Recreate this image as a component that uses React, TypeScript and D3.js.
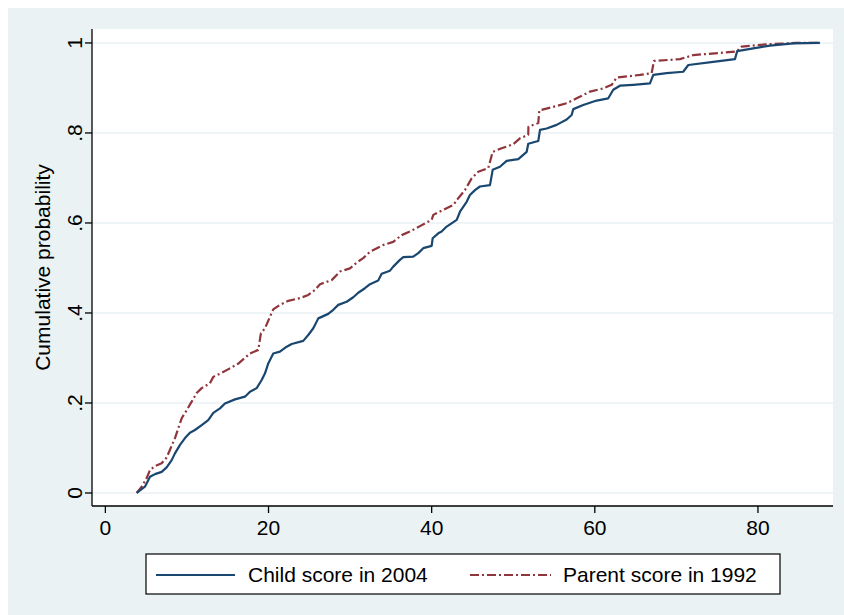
import React from "react";
import * as d3 from "d3";

// Empirical cumulative distributions (score, cumulative probability)
const childScore = [3.84, 4.85, 5.47, 6.08, 6.9, 7.51, 8.13, 8.53, 9.15, 9.76, 10.37, 10.98, 11.81, 12.61, 13.23, 14.05, 14.66, 15.89, 17.11, 17.73, 18.55, 19.16, 19.57, 19.97, 20.58, 21.4, 22.23, 22.84, 24.26, 24.87, 25.49, 26.1, 27.32, 27.94, 28.55, 29.58, 30.39, 31.0, 31.82, 32.44, 33.45, 33.87, 34.89, 35.29, 36.11, 36.52, 37.74, 38.36, 38.97, 40.0, 40.12, 40.81, 41.22, 41.84, 43.07, 43.47, 44.29, 44.69, 45.31, 45.92, 47.15, 47.48, 48.37, 49.19, 50.62, 51.65, 51.84, 53.07, 53.28, 54.1, 55.32, 56.55, 57.16, 57.36, 58.58, 60.23, 61.65, 62.26, 63.08, 64.71, 66.76, 67.17, 68.81, 70.84, 71.46, 74.52, 77.18, 77.46, 79.42, 81.47, 84.33, 87.6];
const childProb = [0, 0.014, 0.036, 0.042, 0.047, 0.057, 0.073, 0.088, 0.107, 0.122, 0.134, 0.14, 0.151, 0.162, 0.178, 0.188, 0.199, 0.208, 0.214, 0.225, 0.233, 0.251, 0.266, 0.288, 0.31, 0.314, 0.325, 0.331, 0.338, 0.351, 0.366, 0.388, 0.398, 0.407, 0.418, 0.425, 0.435, 0.445, 0.455, 0.464, 0.472, 0.487, 0.494, 0.503, 0.518, 0.524, 0.525, 0.533, 0.544, 0.549, 0.566, 0.577, 0.581, 0.592, 0.607, 0.625, 0.647, 0.662, 0.673, 0.681, 0.684, 0.718, 0.725, 0.738, 0.742, 0.758, 0.776, 0.782, 0.807, 0.81, 0.818, 0.83, 0.84, 0.853, 0.862, 0.872, 0.877, 0.896, 0.905, 0.907, 0.91, 0.929, 0.933, 0.936, 0.951, 0.958, 0.964, 0.982, 0.988, 0.994, 0.999, 1.0];

const parentScore = [3.84, 4.45, 5.06, 5.47, 6.08, 6.9, 7.51, 7.92, 8.53, 9.15, 9.35, 9.97, 10.58, 11.19, 11.81, 12.82, 13.23, 14.26, 14.87, 16.26, 17.73, 18.74, 19.07, 19.57, 20.09, 20.58, 21.4, 22.42, 23.86, 24.87, 25.69, 26.31, 27.74, 28.76, 29.98, 30.81, 31.61, 32.44, 34.07, 35.29, 36.32, 37.34, 38.57, 40.0, 40.2, 41.42, 42.65, 43.26, 44.08, 44.9, 45.71, 46.94, 47.48, 48.58, 50.0, 50.82, 51.84, 51.86, 53.07, 53.19, 54.91, 56.55, 57.77, 59.41, 61.04, 62.07, 62.68, 65.54, 66.97, 67.25, 70.44, 72.07, 77.39, 78.0, 81.07, 84.74, 87.6];
const parentProb = [0, 0.014, 0.033, 0.051, 0.06, 0.066, 0.079, 0.096, 0.122, 0.155, 0.166, 0.184, 0.203, 0.222, 0.233, 0.244, 0.258, 0.267, 0.273, 0.287, 0.31, 0.318, 0.355, 0.366, 0.388, 0.408, 0.418, 0.427, 0.433, 0.44, 0.451, 0.464, 0.473, 0.492, 0.499, 0.512, 0.522, 0.536, 0.551, 0.558, 0.573, 0.581, 0.593, 0.607, 0.618, 0.629, 0.64, 0.655, 0.673, 0.699, 0.714, 0.722, 0.758, 0.766, 0.775, 0.788, 0.796, 0.814, 0.822, 0.85, 0.858, 0.866, 0.877, 0.892, 0.899, 0.907, 0.923, 0.929, 0.933, 0.96, 0.964, 0.973, 0.981, 0.992, 0.997, 1.0, 1.0];

const xTicks = [0, 20, 40, 60, 80];
const yTicks = [0, 0.2, 0.4, 0.6, 0.8, 1];
const yTickLabels = ["0", ".2", ".4", ".6", ".8", "1"];
const seriesNames = ["Child score in 2004", "Parent score in 1992"];
const yTitle = "Cumulative probability";

const BG = "#eaf2f3";
const BLUE = "#1a476f";
const RED = "#90353b";
const FONT = "'Liberation Sans', Arial, Helvetica, sans-serif";

export default function App() {
  const x = d3.scaleLinear().domain([-1.64, 89.2]).range([92, 833]);
  const y = d3.scaleLinear().domain([-0.0289, 1.031]).range([506, 29]);

  const line = d3
    .line<[number, number]>()
    .x((d) => x(d[0]))
    .y((d) => y(d[1]))
    .curve(d3.curveLinear);

  const childPts = childScore.map((s, i) => [s, childProb[i]] as [number, number]);
  const parentPts = parentScore.map((s, i) => [s, parentProb[i]] as [number, number]);

  const [x0, x1] = x.range();
  const [yb, yt] = y.range();

  return (
    <svg
      width={844}
      height={615}
      style={{ position: "absolute", left: 0, top: 0 }}
      fontFamily={FONT}
    >
      <rect x={8} y={8} width={836} height={607} fill={BG} />
      <rect x={x0} y={yt} width={x1 - x0} height={yb - yt} fill="#ffffff" />
      {/* gridlines */}
      {yTicks.map((t) => (
        <line key={"g" + t} x1={x0} x2={x1} y1={y(t)} y2={y(t)} stroke={BG} strokeWidth={1.6} />
      ))}
      {/* series */}
      <path d={line(parentPts) || ""} fill="none" stroke={RED} strokeWidth={2.2} strokeDasharray="9,3,2,3" strokeLinejoin="round" />
      <path d={line(childPts) || ""} fill="none" stroke={BLUE} strokeWidth={2.2} strokeLinejoin="round" />
      {/* axes */}
      <line x1={x0} x2={x0} y1={yt} y2={yb} stroke="#000" strokeWidth={1.3} />
      <line x1={x0} x2={x1} y1={yb} y2={yb} stroke="#000" strokeWidth={1.3} />
      {yTicks.map((t, i) => (
        <g key={"yt" + t}>
          <line x1={x0 - 7} x2={x0} y1={y(t)} y2={y(t)} stroke="#000" strokeWidth={1.3} />
          <text
            transform={`translate(${x0 - 10},${y(t)}) rotate(-90)`}
            textAnchor="middle"
            fontSize={21}
            fill="#000"
          >
            {yTickLabels[i]}
          </text>
        </g>
      ))}
      {xTicks.map((t) => (
        <g key={"xt" + t}>
          <line x1={x(t)} x2={x(t)} y1={yb} y2={yb + 7} stroke="#000" strokeWidth={1.3} />
          <text x={x(t)} y={535} textAnchor="middle" fontSize={21} fill="#000">
            {t}
          </text>
        </g>
      ))}
      <text
        transform={`translate(50,${(yt + yb) / 2}) rotate(-90)`}
        textAnchor="middle"
        fontSize={21}
        fill="#000"
      >
        {yTitle}
      </text>
      {/* legend */}
      <rect x={146} y={554} width={634} height={40} fill="#fff" stroke="#000" strokeWidth={1.2} />
      <line x1={156} x2={235} y1={575} y2={575} stroke={BLUE} strokeWidth={2.2} />
      <text x={248} y={582} fontSize={21} fill="#000">
        {seriesNames[0]}
      </text>
      <line x1={470} x2={551} y1={575} y2={575} stroke={RED} strokeWidth={2.2} strokeDasharray="9,3,2,3" />
      <text x={563} y={582} fontSize={21} fill="#000">
        {seriesNames[1]}
      </text>
    </svg>
  );
}
